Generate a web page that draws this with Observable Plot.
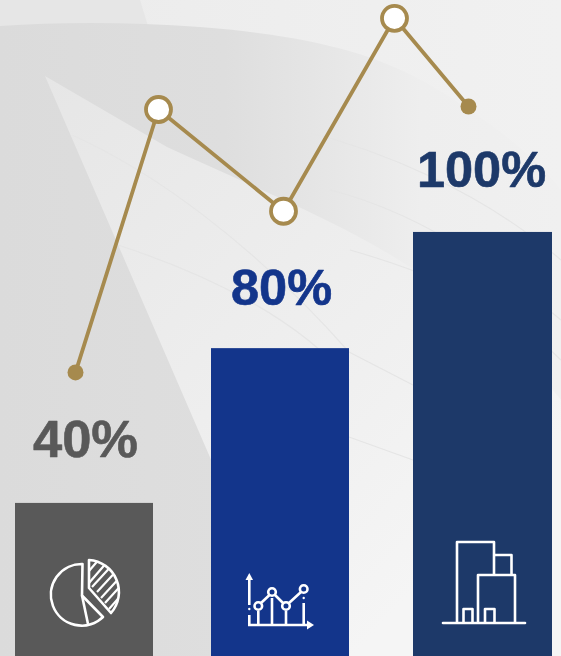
<!DOCTYPE html>
<html><head><meta charset="utf-8">
<script src="https://cdn.jsdelivr.net/npm/d3@7"></script>
<script src="https://cdn.jsdelivr.net/npm/@observablehq/plot@0.6"></script>
<style>
html,body{margin:0;padding:0;background:#eeeeee;overflow:hidden}
svg{display:block}
</style></head><body>
<div id="chart"></div>
<script>
const barLabels = ["40%", "80%", "100%"];
const barValues = [36.1, 72.6, 100];
const barStart = [15, 211, 413];
const barEnd = [153, 349, 552];
const barColors = ["#595959", "#13358b", "#1d3969"];
const labelX = [85, 281, 481];
const labelValues = [51, 86.7, 114.5];
const labelSizes = [52.5, 50.5, 50.5];
const lineX = [75, 158, 283, 394, 468];
const lineValues = [67, 129, 105, 150.5, 129.7];
const hollow = [false, true, true, true, false];

const bars = barLabels.map((l, i) => ({l, x1: barStart[i], x2: barEnd[i], v: barValues[i], c: barColors[i]}));
const labels = barLabels.map((l, i) => ({l, x: labelX[i], v: labelValues[i], c: barColors[i], s: labelSizes[i]}));
const line = lineX.map((x, i) => ({x, v: lineValues[i], h: hollow[i]}));

const ns = "http://www.w3.org/2000/svg";
function fragment(markup) {
  return () => {
    const g = document.createElementNS(ns, "g");
    g.innerHTML = markup;
    return g;
  };
}
const backdrop = fragment(`
  <defs>
   <linearGradient id="bandg" gradientUnits="userSpaceOnUse" x1="0" y1="0" x2="561" y2="0">
    <stop offset="0" stop-color="#dbdbdb"/><stop offset="0.4" stop-color="#dedede"/><stop offset="0.6" stop-color="#e7e7e7"/><stop offset="0.75" stop-color="#eeeeee"/><stop offset="1" stop-color="#f0f0f0"/>
   </linearGradient>
   <linearGradient id="wedgeg" gradientUnits="userSpaceOnUse" x1="45" y1="76" x2="500" y2="500">
    <stop offset="0" stop-color="#e6e6e6"/><stop offset="0.35" stop-color="#ebebeb"/><stop offset="0.7" stop-color="#f0f0f0"/><stop offset="1" stop-color="#f5f5f5"/>
   </linearGradient>
   <linearGradient id="topg" gradientUnits="userSpaceOnUse" x1="0" y1="0" x2="561" y2="0">
    <stop offset="0" stop-color="#ebebeb"/><stop offset="1" stop-color="#f1f1f1"/>
   </linearGradient>
  </defs>
  <rect width="561" height="656" fill="url(#topg)"/>
  <path d="M0 0H140L148 26H0Z" fill="#e6e6e6"/>
  <path d="M0 26C60 22 130 22 200 27C300 35 370 50 430 85C480 115 530 150 561 190V656H0Z" fill="url(#bandg)"/>
  <path d="M45 76L167 147C260 190 350 225 430 280C480 315 530 360 561 400V656H296Z" fill="url(#wedgeg)"/>
  <g fill="none" stroke="#e5e5e5" stroke-width="1.2">
   <path d="M72 135C150 170 250 240 349 352"/>
   <path d="M118 245C210 275 300 320 349 380"/>
   <path d="M349 352L413 385M349 437L413 460"/>
   <path d="M300 130C380 150 480 190 561 260"/>
   <path d="M330 190C410 210 490 260 561 320"/>
   <path d="M350 250C420 270 500 300 561 360"/>
  </g>`);
const pieIcon = fragment(`
  <clipPath id="wedgeclip"><path d="M89 560A32 32 0 0 1 111 613L89 588Z"/></clipPath>
  <g fill="none" stroke="#fff" stroke-width="2.6" stroke-linejoin="round">
  <path d="M82.5 564A30.8 30.8 0 1 0 103 617L82 595.5Z"/>
  <path d="M82 595.5L88 624"/>
  <path d="M89 560A32 32 0 0 1 111 613L89 588Z"/>
  <g clip-path="url(#wedgeclip)" stroke-width="2.2">
   <path d="M89 571L101 557M89 583L108 561M92 587L116 561M97 592L122 565M101 598L124 573M105 603L124 582M109 609L124 592"/>
  </g>
</g>`);
const chartIcon = fragment(`<g fill="none" stroke="#fff" stroke-width="2.6">
  <path d="M249.3 605V578"/><path d="M245.5 580L249.3 573L253 580Z" fill="#fff" stroke="none"/>
  <path d="M249.3 615V625H309"/><path d="M307 620.5L314 625L307 629.5Z" fill="#fff" stroke="none"/>
  <path d="M258.3 611V625M272 598V625M286 611V625M303.7 603V625"/>
  <circle cx="258.3" cy="606" r="3.8"/><circle cx="272" cy="592" r="3.8"/><circle cx="286" cy="606" r="3.8"/><circle cx="303.7" cy="589" r="3.8"/>
  <path d="M261 603L269.5 595M275 595L283 603M289 603L301 592"/>
  <circle cx="249.3" cy="609" r="1.2" fill="#fff" stroke="none"/><circle cx="303.7" cy="598" r="1.2" fill="#fff" stroke="none"/>
</g>`);
const buildingIcon = fragment(`<g fill="none" stroke="#fff" stroke-width="2.6" stroke-linejoin="round">
  <path d="M443 623H525" stroke-linecap="round"/>
  <path d="M457 623V542H494V575"/>
  <path d="M494 555H511.5V575"/>
  <path d="M478 623V575H515V623"/>
  <path d="M463.5 623V609H472.5V623M485 623V609H494.5V623"/>
</g>`);

const font = "Liberation Sans, Arial, sans-serif";
const plot = Plot.plot({
  width: 561, height: 656,
  marginTop: 0, marginRight: 0, marginBottom: 0, marginLeft: 0,
  style: {background: "transparent"},
  x: {domain: [0, 561], axis: null},
  y: {domain: [0, 154.7], range: [656, 0], axis: null},
  marks: [
    backdrop,
    Plot.rectY(bars, {x1: "x1", x2: "x2", y1: 0, y2: "v", fill: "c"}),
    pieIcon, chartIcon, buildingIcon,
    Plot.text(labels, {x: "x", y: "v", text: "l", fill: "c", stroke: "c", strokeWidth: 0.6, fontSize: "s", fontWeight: 700, fontFamily: font, textAnchor: "middle"}),
    Plot.line(line, {x: "x", y: "v", stroke: "#a68a4e", strokeWidth: 3.8}),
    Plot.dot(line.filter(d => !d.h), {x: "x", y: "v", r: 8, fill: "#a68a4e"}),
    Plot.dot(line.filter(d => d.h), {x: "x", y: "v", r: 12.5, fill: "#fff", stroke: "#a68a4e", strokeWidth: 3.8})
  ]
});
document.getElementById("chart").append(plot);
</script></body></html>
